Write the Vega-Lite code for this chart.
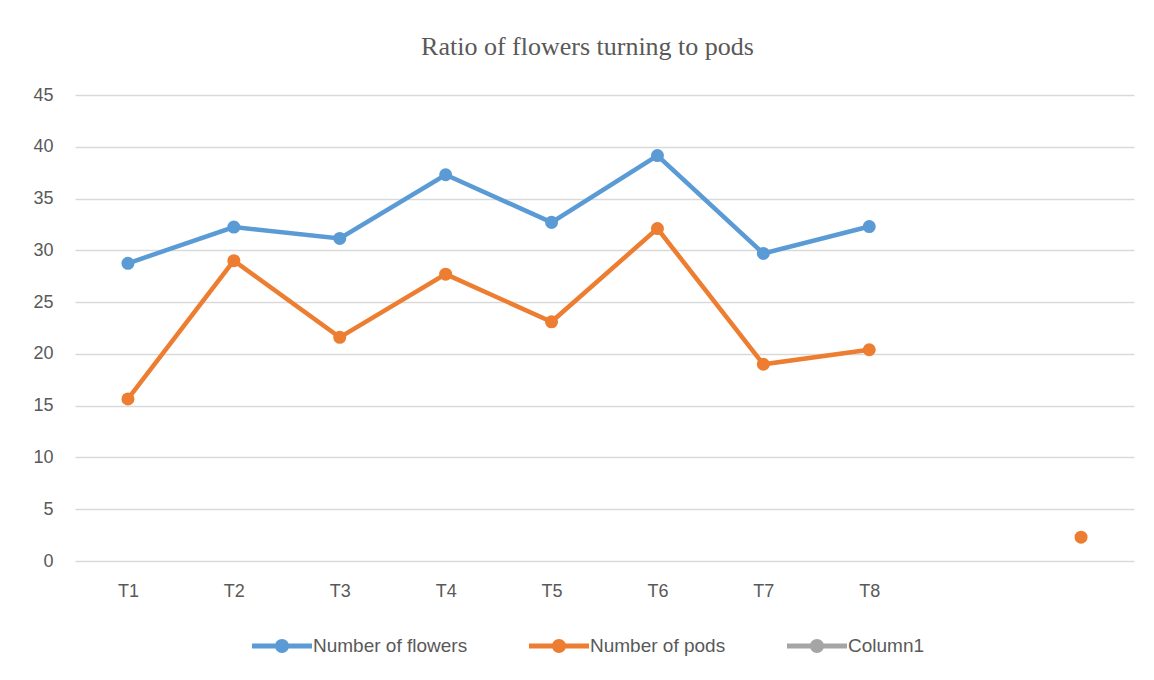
{
  "$schema": "https://vega.github.io/schema/vega-lite/v6.json",
  "width": 1059,
  "height": 466,
  "autosize": {"type": "none"},
  "padding": {"left": 75, "top": 95, "right": 20, "bottom": 119},
  "background": "white",
  "config": {"view": {"stroke": null}},
  "title": {
    "text": "Ratio of flowers turning to pods",
    "font": "Liberation Serif",
    "fontSize": 26,
    "fontWeight": "normal",
    "color": "#595959",
    "offset": 26,
    "dx": -17
  },
  "data": {
    "values": [
      {"cat": "T1", "series": "Number of flowers", "value": 28.75},
      {"cat": "T2", "series": "Number of flowers", "value": 32.25},
      {"cat": "T3", "series": "Number of flowers", "value": 31.15},
      {"cat": "T4", "series": "Number of flowers", "value": 37.3},
      {"cat": "T5", "series": "Number of flowers", "value": 32.7},
      {"cat": "T6", "series": "Number of flowers", "value": 39.15},
      {"cat": "T7", "series": "Number of flowers", "value": 29.7},
      {"cat": "T8", "series": "Number of flowers", "value": 32.3},
      {"cat": "T1", "series": "Number of pods", "value": 15.65},
      {"cat": "T2", "series": "Number of pods", "value": 29.0},
      {"cat": "T3", "series": "Number of pods", "value": 21.6},
      {"cat": "T4", "series": "Number of pods", "value": 27.7},
      {"cat": "T5", "series": "Number of pods", "value": 23.1},
      {"cat": "T6", "series": "Number of pods", "value": 32.1},
      {"cat": "T7", "series": "Number of pods", "value": 19.0},
      {"cat": "T8", "series": "Number of pods", "value": 20.4},
      {"cat": "  ", "series": "Number of pods", "value": 2.3}
    ]
  },
  "encoding": {
    "x": {
      "field": "cat",
      "type": "nominal",
      "sort": null,
      "scale": {"domain": ["T1", "T2", "T3", "T4", "T5", "T6", "T7", "T8", " ", "  "], "padding": 0.5},
      "axis": {
        "title": null,
        "labelAngle": 0,
        "ticks": false,
        "domain": false,
        "grid": false,
        "labelPadding": 21,
        "labelFont": "Liberation Sans",
        "labelFontSize": 18,
        "labelColor": "#595959"
      }
    },
    "y": {
      "field": "value",
      "type": "quantitative",
      "scale": {"domain": [0, 45], "nice": false},
      "axis": {
        "title": null,
        "values": [0, 5, 10, 15, 20, 25, 30, 35, 40, 45],
        "ticks": false,
        "domain": false,
        "gridColor": "#d9d9d9",
        "gridWidth": 1.5,
        "labelPadding": 22,
        "labelFont": "Liberation Sans",
        "labelFontSize": 18,
        "labelColor": "#595959"
      }
    },
    "color": {
      "field": "series",
      "type": "nominal",
      "scale": {
        "domain": ["Number of flowers", "Number of pods", "Column1"],
        "range": ["#5B9BD5", "#ED7D31", "#A5A5A5"]
      },
      "legend": {
        "title": null,
        "orient": "none",
        "direction": "horizontal",
        "legendX": 187,
        "legendY": 531,
        "symbolType": "M -1.5 -0.12 L 1.5 -0.12 L 1.5 0.12 L -1.5 0.12 Z M -0.35 0 A 0.35 0.35 0 1 1 0.35 0 A 0.35 0.35 0 1 1 -0.35 0 Z",
        "symbolSize": 1600,
        "symbolStrokeWidth": 0,
        "labelOffset": 11,
        "columnPadding": 61,
        "labelFont": "Liberation Sans",
        "labelFontSize": 19,
        "labelColor": "#595959",
        "encode": {
          "symbols": {
            "update": {
              "fill": {"scale": "color", "field": "value"},
              "opacity": {"value": 1},
              "strokeWidth": {"value": 0}
            }
          }
        }
      }
    }
  },
  "layer": [
    {
      "transform": [{"filter": "datum.cat != '  '"}],
      "mark": {"type": "line", "strokeWidth": 4.5}
    },
    {
      "mark": {"type": "point", "filled": true, "size": 170, "opacity": 1}
    }
  ]
}
